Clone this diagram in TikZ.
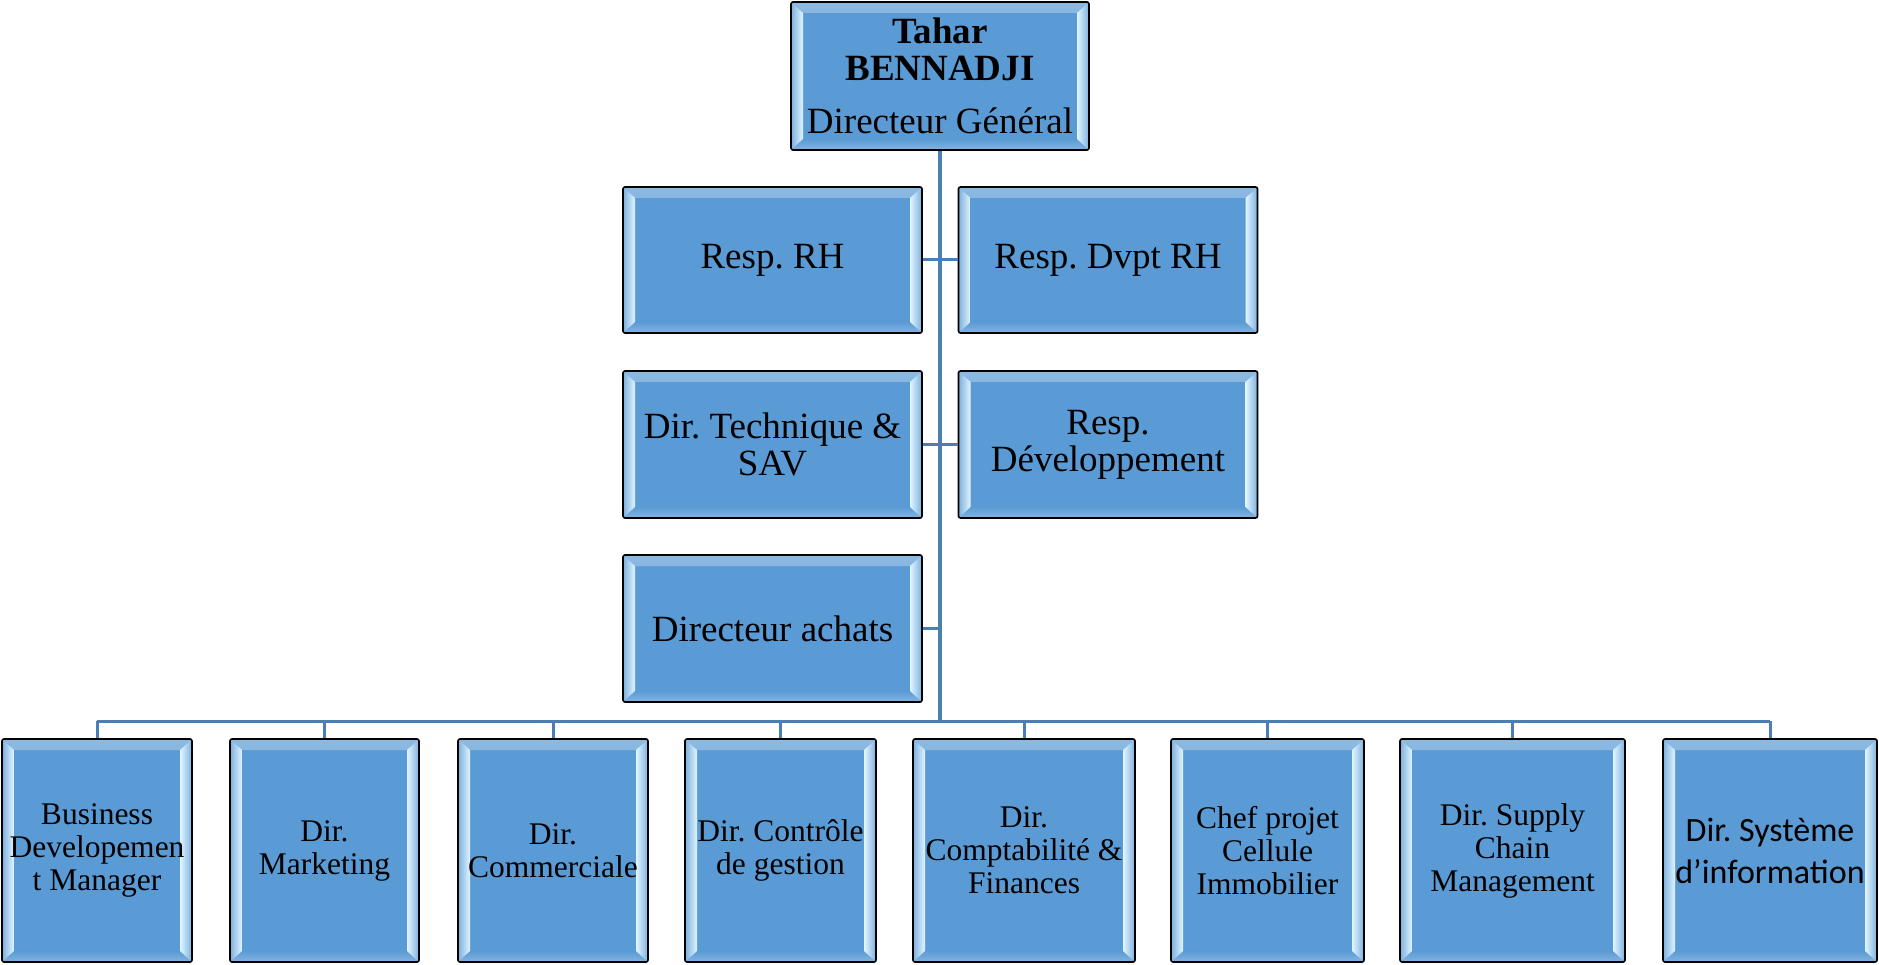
\documentclass[tikz,border=0pt]{standalone}
\usepackage{fontspec}
\setmainfont{Liberation Serif}
\newfontfamily\calibrifont{Carlito}
\usepackage{tikz}
\frenchspacing

\definecolor{boxblue}{HTML}{5B9BD5}
\definecolor{linkblue}{HTML}{4A7EB4}
\definecolor{glowblue}{HTML}{E2F6FF}

\def\ppb{path picture bounding box}

\tikzset{
  bevel/.style={path picture={
    \shade[top color=boxblue!70!white, bottom color=boxblue, sharp corners] (\ppb.north west) -- ([xshift=12pt,yshift=-11pt]\ppb.north west) -- ([xshift=-12pt,yshift=-11pt]\ppb.north east) -- (\ppb.north east) -- cycle;
    \shade[top color=boxblue, bottom color=boxblue!75!white, sharp corners] (\ppb.south west) -- ([xshift=12pt,yshift=11pt]\ppb.south west) -- ([xshift=-12pt,yshift=11pt]\ppb.south east) -- (\ppb.south east) -- cycle;
    \shade[left color=boxblue!80!white, right color=glowblue, sharp corners] (\ppb.north west) -- ([xshift=12pt,yshift=-11pt]\ppb.north west) -- ([xshift=12pt,yshift=11pt]\ppb.south west) -- (\ppb.south west) -- cycle;
    \shade[right color=boxblue!80!white, left color=glowblue, sharp corners] (\ppb.north east) -- ([xshift=-12pt,yshift=-11pt]\ppb.north east) -- ([xshift=-12pt,yshift=11pt]\ppb.south east) -- (\ppb.south east) -- cycle;
  }},
  orgbox/.style={draw=black, line width=1.6pt, rounded corners=2pt, fill=boxblue, bevel,
    inner sep=0pt, align=center, font=\fontsize{37}{37}\selectfont},
  upbox/.style={orgbox, minimum width=299pt, minimum height=146pt},
  lowbox/.style={orgbox, minimum height=223pt, font=\fontsize{31.5}{33}\selectfont},
  link/.style={draw=linkblue, line width=3pt}
}

\begin{document}
\begin{tikzpicture}[x=1pt, y=-1pt]

            \useasboundingbox (0,0) rectangle (1879,965);

            \node[orgbox, minimum width=298pt, minimum height=148pt] (dg) at (940,76)
                {\textbf{Tahar}\\\textbf{BENNADJI}\\[16pt]Directeur Général};

            \node[upbox] (rh) at (772.5,260) {Resp. RH};
            \node[upbox] (dvptrh) at (1108,260) {Resp. Dvpt RH};
            \node[upbox, minimum height=147pt] (tech) at (772.5,444.5) {Dir. Technique \&\\SAV};
            \node[upbox, minimum height=147pt] (dev) at (1108,444.5) {Resp.\\Développement};
            \node[upbox, minimum height=147pt] (achats) at (772.5,628.5) {Directeur achats};

            \coordinate (bus) at (940,721);

            \node[lowbox, minimum width=190pt] (b1) at (97,850.5) {Business\\Developemen\\t Manager};
            \node[lowbox, minimum width=189pt] (b2) at (324.5,850.5) {Dir.\\Marketing};
            \node[lowbox, minimum width=190pt] (b3) at (553,850.5) {Dir.\\Commerciale};
            \node[lowbox, minimum width=191pt] (b4) at (780.5,850.5) {Dir. Contrôle\\de gestion};
            \node[lowbox, minimum width=222pt] (b5) at (1024,850.5) {Dir.\\Comptabilité \&\\Finances};
            \node[lowbox, minimum width=193pt] (b6) at (1267.5,850.5) {Chef projet\\Cellule\\Immobilier};
            \node[lowbox, minimum width=225pt] (b7) at (1512.5,850.5) {Dir. Supply\\Chain\\Management};
            \node[lowbox, minimum width=214pt, font=\calibrifont\fontsize{34}{42}\selectfont] (b8) at (1770,850.5)
                {Dir. Système\\d’information};

            \draw[link, line width=4pt] (dg.south) -- (bus);
            \draw[link] (rh.east) -- (rh.east -| dg.south) (dvptrh.west) -- (dvptrh.west -| dg.south);
            \draw[link] (tech.east) -- (tech.east -| dg.south) (dev.west) -- (dev.west -| dg.south);
            \draw[link] (achats.east) -- (achats.east -| dg.south);

            \draw[link] (b1.north |- bus) -- (b8.north |- bus);
            \foreach \b in {b1,b2,b3,b4,b5,b6,b7,b8}
                \draw[link] (\b.north |- bus) -- (\b.north);

\end{tikzpicture}
\end{document}
